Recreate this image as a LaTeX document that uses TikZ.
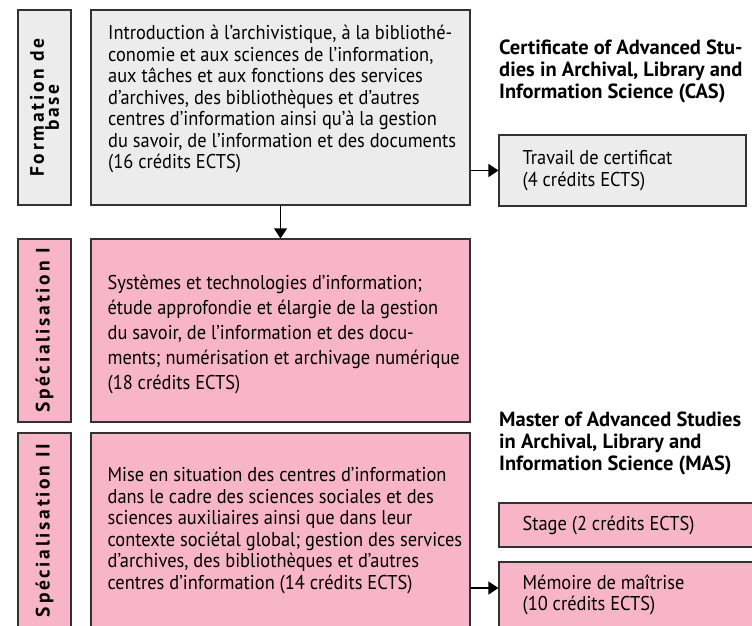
\documentclass[tikz,border=0pt]{standalone}
\usepackage{fontspec}
\setmainfont{PT Sans}
\newfontfamily\bodyfont[FakeStretch=0.92]{PT Sans}
\newfontfamily\headfont{PT Sans}
\newfontfamily\sidefont[LetterSpace=14]{PT Sans}
\usepackage{xcolor}
\usepackage{tikz}
\usetikzlibrary{positioning, arrows.meta}
\definecolor{greybox}{RGB}{236,236,236}
\definecolor{pinkbox}{RGB}{247,181,199}
\definecolor{rulecol}{RGB}{50,50,50}

\begin{document}
\begin{tikzpicture}[x=1pt,y=-1pt]
						\tikzstyle{block}=[rectangle,draw=rulecol,line width=1.2pt,inner sep=0pt]
						\tikzstyle{side}=[block,rotate=90,minimum height=53pt,align=center,font=\sidefont\bfseries\fontsize{19.5}{15}\selectfont]
						\tikzstyle{body}=[align=left,inner sep=0pt,font=\bodyfont\fontsize{20}{21.5}\selectfont]
						\tikzstyle{head}=[align=left,inner sep=0pt,anchor=north west,font=\headfont\bfseries\fontsize{20.5}{22}\selectfont]
						\tikzstyle{arr}=[-{Triangle[width=13pt,length=10pt]},line width=1.2pt,draw=black]
						\useasboundingbox (0,0) rectangle (752,626);
						\clip (0,0) rectangle (752,626);
						% left column
						\node[side,fill=greybox,minimum width=195pt](fside) at (44.5,107.5) {Formation de\\base};
						\node[side,fill=pinkbox,minimum width=183pt](s1side) at (44.5,330.5) {Spécialisation I};
						\node[side,fill=pinkbox,minimum width=195pt](s2side) at (44.5,530.5) {Spécialisation II};
						% modules
						\node[block,fill=greybox,minimum width=379pt,minimum height=195pt](fmain) at (280.5,107.5) {};
						\node[block,fill=pinkbox,minimum width=379pt,minimum height=183pt](s1main) at (280.5,330.5) {};
						\node[block,fill=pinkbox,minimum width=379pt,minimum height=195pt](s2main) at (280.5,530.5) {};
						\node[body,anchor=north west](ftext) at (108,25) {Introduction à l’archivistique, à la bibliothé-\\conomie et aux sciences de l’information,\\aux tâches et aux fonctions des services\\d’archives, des bibliothèques et d’autres\\centres d’information ainsi qu’à la gestion\\du savoir, de l’information et des documents\\(16 crédits ECTS)};
						\node[body,font=\bodyfont\fontsize{20}{25}\selectfont,right=17pt of s1main.west,yshift=-4pt](s1text) {Systèmes et technologies d’information;\\étude approfondie et élargie de la gestion\\du savoir, de l’information et des docu-\\ments; numérisation et archivage numérique\\(18 crédits ECTS)};
						\node[body,right=17pt of s2main.west](s2text) {Mise en situation des centres d’information\\dans le cadre des sciences sociales et des\\sciences auxiliaires ainsi que dans leur\\contexte sociétal global; gestion des services\\d’archives, des bibliothèques et d’autres\\centres d’information (14 crédits ECTS)};
						% CAS and MAS
						\node[head](cas) at (499,40) {Certificate of Advanced Stu-\\dies in Archival, Library and\\Information Science (CAS)};
						\node[block,fill=greybox,minimum width=247pt,minimum height=71pt](trav) at (622.5,170.5) {};
						\node[body,right=24pt of trav.west](travtext) {Travail de certificat\\(4 crédits ECTS)};
						\node[head](mas) at (499,412) {Master of Advanced Studies\\in Archival, Library and\\Information Science (MAS)};
						\node[block,fill=pinkbox,minimum width=271pt,minimum height=44pt](stage) at (634.5,525) {};
						\node[body,right=24pt of stage.west](stagetext) {Stage (2 crédits ECTS)};
						\node[block,fill=pinkbox,minimum width=271pt,minimum height=66pt](mem) at (634.5,595) {};
						\node[body,right=24pt of mem.west](memtext) {Mémoire de maîtrise\\(10 crédits ECTS)};
						\coordinate (m1) at (470,588);
						\path
							(fmain) edge[arr] node {}(s1main)
							(trav.west -| fmain.east) edge[arr] node {}(trav.west)
							(m1) edge[arr] node {}(m1 -| mem.west);
					\end{tikzpicture}
\end{document}
